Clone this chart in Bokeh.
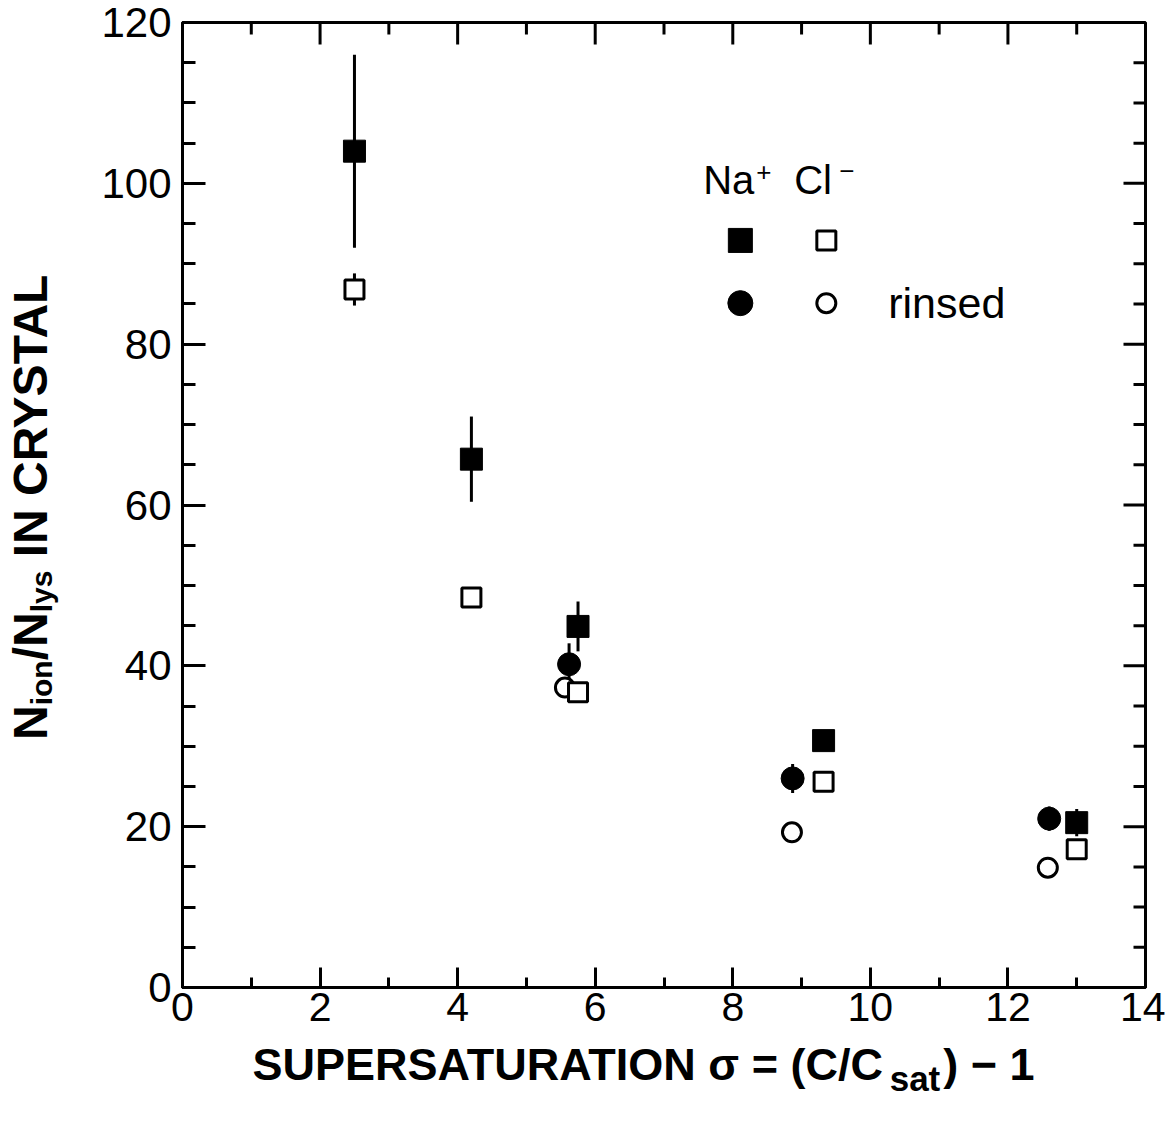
from bokeh.plotting import figure
from bokeh.models import Range1d, FixedTicker, Label, Div
from bokeh.layouts import row, column
from bokeh.core.properties import value
from bokeh.embed import file_html
from bokeh.resources import INLINE

# ---------------- data ----------------
# Na+ (filled squares), not rinsed
na_x = [2.5, 4.2, 5.75, 9.32, 13.0]
na_y = [104.0, 65.7, 44.9, 30.7, 20.5]
na_err = [12.0, 5.3, 3.1, 0.0, 1.7]
# Cl- (open squares), not rinsed
cl_x = [2.5, 4.2, 5.75, 9.32, 13.0]
cl_y = [86.8, 48.5, 36.7, 25.6, 17.2]
cl_err = [2.0, 0.0, 0.0, 0.0, 0.0]
# Na+ rinsed (filled circles)
nar_x = [5.62, 8.87, 12.6]
nar_y = [40.2, 26.0, 21.0]
nar_err = [2.6, 1.8, 1.5]
# Cl- rinsed (open circles)
clr_x = [5.56, 8.86, 12.58]
clr_y = [37.3, 19.3, 14.9]

x_ticks = list(range(0, 15, 2))
x_minor = list(range(0, 15, 1))
y_ticks = list(range(0, 121, 20))
y_minor = list(range(0, 121, 5))

# legend key positions (data space)
key_x = [8.11, 9.36]
key_y = [92.9, 85.1]

FONT = "Liberation Sans"
BASE_SHIFT = 0.37   # em between Bokeh's "alphabetic" anchor and the drawn baseline

# ---------------- layout sizes ----------------
YL_W = 60          # strip holding the rotated y title
MAIN_W = 1105
MAIN_H = 1040
XL_H = 70          # strip holding the x title

p = figure(width=MAIN_W, height=MAIN_H,
           x_range=Range1d(0, 14), y_range=Range1d(0, 120),
           output_backend="svg", toolbar_location=None,
           min_border_left=122, min_border_right=20,
           min_border_top=22, min_border_bottom=53)
p.grid.visible = False
p.background_fill_color = "white"
p.border_fill_color = "white"
p.outline_line_color = "black"
p.outline_line_width = 3


def style(ax, ticks, minor, tin, min_in, size, standoff):
    ax.ticker = FixedTicker(ticks=ticks, minor_ticks=minor)
    ax.axis_line_width = 3
    ax.axis_line_color = "black"
    ax.major_tick_line_width = 3
    ax.minor_tick_line_width = 3
    ax.major_tick_line_color = "black"
    ax.minor_tick_line_color = "black"
    ax.major_tick_in = tin
    ax.major_tick_out = 0
    ax.minor_tick_in = min_in
    ax.minor_tick_out = 0
    ax.major_label_text_font = FONT
    ax.major_label_text_color = "black"
    ax.major_label_text_font_size = size
    ax.major_label_standoff = standoff


style(p.xaxis[0], x_ticks, x_minor, 20, 10, "41px", 5)
style(p.yaxis[0], y_ticks, y_minor, 23, 13, "42px", 11)

# inward ticks on the top and right edges of the frame
x_min_only = [v for v in x_minor if v not in x_ticks]
y_min_only = [v for v in y_minor if v not in y_ticks]
TK = dict(length_units="screen", angle_units="deg", line_color="black",
          line_width=3)
p.ray(x=x_ticks, y=[120] * len(x_ticks), length=22, angle=-90, **TK)
p.ray(x=x_min_only, y=[120] * len(x_min_only), length=12, angle=-90, **TK)
p.ray(x=[14] * len(y_ticks), y=y_ticks, length=22, angle=180, **TK)
p.ray(x=[14] * len(y_min_only), y=y_min_only, length=12, angle=180, **TK)

# ---------------- error bars ----------------
def bars(xs, ys, es):
    x0 = [x for x, e in zip(xs, es) if e > 0]
    lo = [y - e for y, e in zip(ys, es) if e > 0]
    hi = [y + e for y, e in zip(ys, es) if e > 0]
    p.segment(x0=x0, y0=lo, x1=x0, y1=hi, line_color="black", line_width=3)


bars(na_x, na_y, na_err)
bars(cl_x, cl_y, cl_err)
bars(nar_x, nar_y, nar_err)

# ---------------- markers ----------------
p.scatter(clr_x, clr_y, marker="circle", size=19, fill_color="white",
          line_color="black", line_width=3)
p.scatter(nar_x, nar_y, marker="circle", size=23, fill_color="black",
          line_color="black", line_width=1)
p.scatter(cl_x, cl_y, marker="square", size=19, fill_color="white",
          line_color="black", line_width=3)
p.scatter(na_x, na_y, marker="square", size=22, fill_color="black",
          line_color="black", line_width=1)

# ---------------- legend ----------------
p.scatter([key_x[0]], [key_y[0]], marker="square", size=24, fill_color="black",
          line_color="black", line_width=1)
p.scatter([key_x[1]], [key_y[0]], marker="square", size=19, fill_color="white",
          line_color="black", line_width=3)
p.scatter([key_x[0]], [key_y[1]], marker="circle", size=25, fill_color="black",
          line_color="black", line_width=1)
p.scatter([key_x[1]], [key_y[1]], marker="circle", size=19, fill_color="white",
          line_color="black", line_width=3)

hdr_x, hdr_y = 7.57, 98.6
for txt, size, dx, dy in [("Na", 40, 0, 0), ("+", 26, 53, 13),
                          ("Cl", 40, 91, 0), ("\u2212", 26, 136, 14)]:
    p.add_layout(Label(x=hdr_x, y=hdr_y, x_offset=dx,
                       y_offset=dy + BASE_SHIFT * size, text=txt,
                       text_font=FONT, text_font_size=f"{size}px",
                       text_color="black", text_align="left",
                       text_baseline="alphabetic"))
p.add_layout(Label(x=10.26, y=83.2, y_offset=BASE_SHIFT * 43, text="rinsed",
                   text_font=FONT, text_font_size="43px", text_color="black",
                   text_align="left", text_baseline="alphabetic"))

# ---------------- y title: rotated HTML text with subscripts ----------------
sub_css = "font-size:30px;position:relative;top:5px;"
ytitle_html = (
    f'<div style="position:relative;width:{YL_W}px;height:{MAIN_H}px;">'
    '<div style="position:absolute;left:7px;top:740px;'
    'transform-origin:0 0;transform:rotate(-90deg);white-space:nowrap;'
    f"font-family:'{FONT}';font-weight:bold;font-size:48px;line-height:48px;"
    'color:black;">'
    f'N<span style="{sub_css}">ion</span>/N<span style="{sub_css}">lys</span>'
    ' IN CRYSTAL</div></div>'
)
yl = Div(text=ytitle_html, width=YL_W, height=MAIN_H, margin=(0, 0, 0, 0))

# ---------------- x title (composed text glyphs with subscript) -------------
AB = {' ': 0.278, 'C': 0.722, 'S': 0.667, 'T': 0.611, 'A': 0.722, 'R': 0.722,
      '/': 0.278, 's': 0.556, 'a': 0.556, 't': 0.333, '(': 0.333, ')': 0.333,
      '=': 0.584, '\u2212': 0.584, '1': 0.556, '\u03c3': 0.62, 'U': 0.722,
      'P': 0.667, 'E': 0.667, 'O': 0.778, 'N': 0.722, 'I': 0.278}


def tw(s, size):
    return sum(AB[c] for c in s) * size


xl = figure(width=YL_W + MAIN_W, height=XL_H,
            x_range=Range1d(0, YL_W + MAIN_W), y_range=Range1d(0, XL_H),
            output_backend="svg", toolbar_location=None,
            x_axis_type=None, y_axis_type=None,
            min_border_left=0, min_border_right=0,
            min_border_top=0, min_border_bottom=0)
xl.grid.visible = False
xl.outline_line_color = None
xl.background_fill_color = "white"
xl.border_fill_color = "white"

xpieces = [("SUPERSATURATION \u03c3 = (C/C", 45, 0), ("sat", 35, -10),
           (") \u2212 1", 45, 0)]
bx = 252
by = (MAIN_H + XL_H) - 1081          # baseline of the title, page y = 1081
cum = 0.0
for txt, size, sub in xpieces:
    gap = 3 if sub else 0
    xl.text(x=[bx + cum + gap], y=[by + sub + BASE_SHIFT * size], text=[txt],
            text_font=value(FONT), text_font_style="bold",
            text_font_size=value(f"{size}px"), text_color="black",
            text_align="left", text_baseline="alphabetic")
    cum += tw(txt, size) + 2 * gap

layout = column(row(yl, p), xl)
open("out.html", "w").write(file_html(layout, INLINE))
